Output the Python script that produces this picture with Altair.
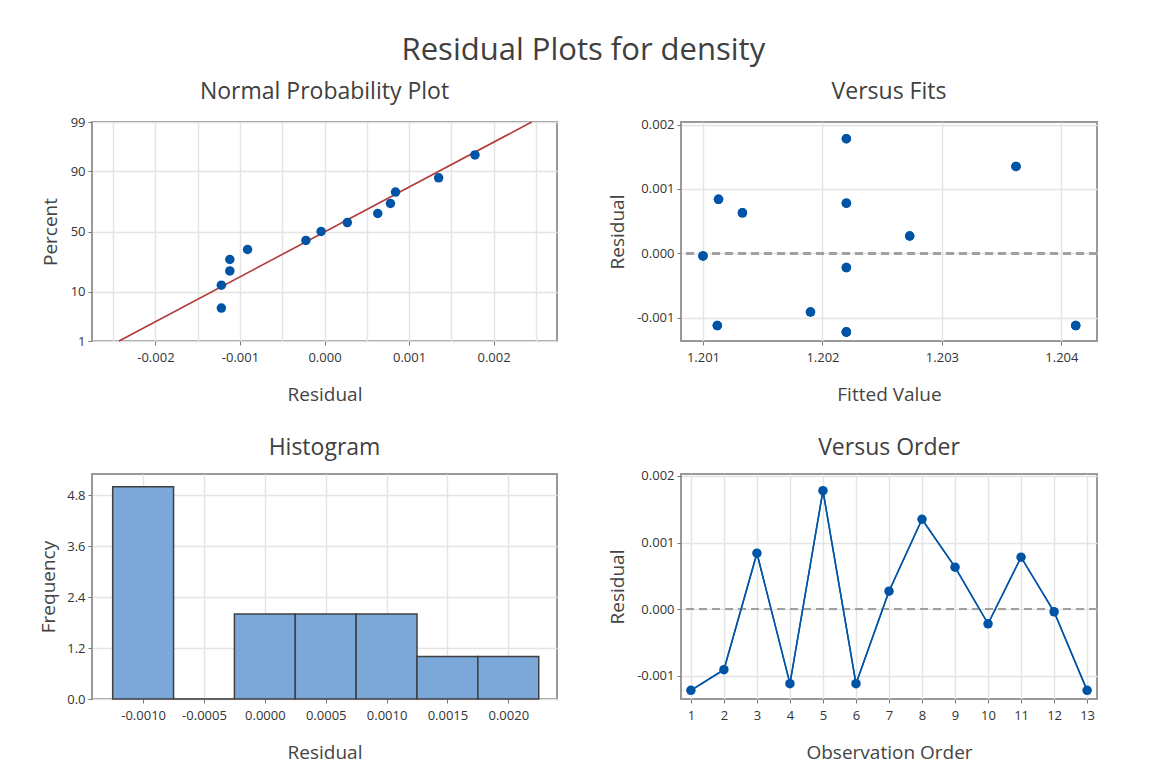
import altair as alt
import pandas as pd
from statistics import NormalDist

# ---------------- data ----------------
obs_order = list(range(1, 14))
residuals = [-0.00122, -0.00091, 0.00084, -0.00112, 0.00178, -0.00112, 0.00027,
             0.00135, 0.00063, -0.00022, 0.00078, -0.00004, -0.00122]
fitted = [1.20220, 1.20190, 1.20113, 1.20112, 1.20220, 1.20412, 1.20273,
          1.20362, 1.20133, 1.20220, 1.20220, 1.20100, 1.20220]

# normal probability plot: plotting percents of the ordered residuals
npp_percent = [5.2, 12.7, 20.1, 27.6, 35.1, 42.5, 50.0, 57.5, 64.9, 72.4, 79.9, 87.3, 94.8]
# fitted normal line end points (residual at 1% and 99%)
line_percent = [1, 99]
line_resid = [-0.00243, 0.00245]
pct_ticks = [1, 10, 50, 90, 99]

# histogram
hist_mid = [-0.0010, -0.0005, 0.0000, 0.0005, 0.0010, 0.0015, 0.0020]
hist_freq = [5, 0, 2, 2, 2, 1, 1]
hist_width = 0.0005
freq_ticks = [0.0, 1.2, 2.4, 3.6, 4.8]

resid_ticks = [-0.001, 0.000, 0.001, 0.002]
fit_ticks = [1.201, 1.202, 1.203, 1.204]
npp_grid = [-0.0025, -0.002, -0.0015, -0.001, -0.0005, 0.0, 0.0005, 0.001, 0.0015, 0.002, 0.0025]

# ---------------- styling ----------------
FONT = "Open Sans"
BLUE = "#0054A6"
RED = "#B23A3A"
BAR = "#7BA7D9"
TXT = "#333333"
GRID = "#E4E4E4"
HYPHEN = "replace(datum.label, '\u2212', '-')"

nd = NormalDist()
npp_df = pd.DataFrame({
    "resid": sorted(residuals),
    "pct": npp_percent,
})
npp_df["z"] = [nd.inv_cdf(p / 100) for p in npp_df["pct"]]
line_df = pd.DataFrame({"resid": line_resid, "pct": line_percent})
line_df["z"] = [nd.inv_cdf(p / 100) for p in line_df["pct"]]
z_ticks = [nd.inv_cdf(p / 100) for p in pct_ticks]

df = pd.DataFrame({"obs": obs_order, "resid": residuals, "fit": fitted})
hist_df = pd.DataFrame({"mid": hist_mid, "freq": hist_freq})
hist_df["lo"] = hist_df["mid"] - hist_width / 2
hist_df["hi"] = hist_df["mid"] + hist_width / 2


def xaxis(title, **kw):
    return alt.Axis(title=title, grid=True, gridColor=GRID, gridWidth=1.5,
                    domain=False, tickColor="#777", tickSize=4, labelPadding=6,
                    labelFont=FONT, labelFontSize=13, labelColor=TXT, labelOverlap=False,
                    titleFont=FONT, titleFontSize=19, titleFontWeight="normal",
                    titleColor="#444", titlePadding=14, minExtent=30, maxExtent=30,
                    **kw)


def yaxis(title, extent, pad, **kw):
    return alt.Axis(title=title, grid=True, gridColor=GRID, gridWidth=1.5,
                    domain=False, tickColor="#777", tickSize=4, labelPadding=3,
                    labelFont=FONT, labelFontSize=13, labelColor=TXT, labelOverlap=False,
                    titleFont=FONT, titleFontSize=19, titleFontWeight="normal",
                    titleColor="#444", titlePadding=pad, minExtent=extent, maxExtent=extent,
                    **kw)


def ptitle(t, off):
    return alt.TitleParams(t, font=FONT, fontSize=23, fontWeight="normal",
                           color="#404040", offset=off, frame="group")


# ---- panel 1: normal probability plot ----
x1 = alt.X("resid:Q", scale=alt.Scale(domain=[-0.00275, 0.00275], nice=False, zero=False),
           axis=xaxis("Residual", values=npp_grid, format=".3f",
                      labelExpr="abs(round(datum.value*2000)) % 2 == 0 ? " + HYPHEN + " : ''",
                      tickOpacity={"condition": {"test": "abs(round(datum.value*2000)) % 2 == 0", "value": 1}, "value": 0}))
y1 = alt.Y("z:Q", scale=alt.Scale(domain=[z_ticks[0], z_ticks[-1]], nice=False, zero=False),
           axis=yaxis("Percent", 30, 2, values=z_ticks,
                      labelExpr="format(cumulativeNormal(datum.value)*100, '.0f')"))
npp_line = alt.Chart(line_df).mark_line(color=RED, strokeWidth=1.6).encode(x=x1, y=y1)
npp_pts = alt.Chart(npp_df).mark_circle(color=BLUE, opacity=1, size=90).encode(x=x1, y=y1)
p1 = alt.layer(npp_line, npp_pts).properties(width=465, height=219,
                                             title=ptitle("Normal Probability Plot", 12))

# ---- panel 2: versus fits ----
x2 = alt.X("fit:Q", scale=alt.Scale(domain=[1.200816, 1.204298], nice=False, zero=False),
           axis=xaxis("Fitted Value", values=fit_ticks, format=".3f"))
y2 = alt.Y("resid:Q", scale=alt.Scale(domain=[-0.00136, 0.00204], nice=False, zero=False),
           axis=yaxis("Residual", 50, 4, values=resid_ticks, format=".3f", labelExpr=HYPHEN))
zero2 = alt.Chart(df).mark_rule(color="#A0A0A0", strokeWidth=1.5, strokeDash=[8, 5]).encode(y=alt.datum(0))
pts2 = alt.Chart(df).mark_circle(color=BLUE, opacity=1, size=90).encode(x=x2, y=y2)
p2 = alt.layer(pts2, zero2, pts2).properties(width=416, height=219, title=ptitle("Versus Fits", 15))

# ---- panel 3: histogram ----
x3 = alt.X("lo:Q", scale=alt.Scale(domain=[-0.00142, 0.00240], nice=False, zero=False),
           axis=xaxis("Residual", values=hist_mid, format=".4f", labelExpr=HYPHEN))
y3 = alt.Y("freq:Q", scale=alt.Scale(domain=[0, 5.3], nice=False),
           axis=yaxis("Frequency", 30, 4, values=freq_ticks, format=".1f"))
bars = alt.Chart(hist_df).mark_bar(color=BAR, stroke="#404040", strokeWidth=1.5, opacity=1).encode(
    x=x3, x2="hi:Q", y=y3, y2=alt.datum(0))
p3 = bars.properties(width=465, height=225, title=ptitle("Histogram", 14))

# ---- panel 4: versus order ----
x4 = alt.X("obs:Q", scale=alt.Scale(domain=[0.7, 13.3], nice=False, zero=False),
           axis=xaxis("Observation Order", values=obs_order, format="d"))
y4 = alt.Y("resid:Q", scale=alt.Scale(domain=[-0.00135, 0.00203], nice=False, zero=False),
           axis=yaxis("Residual", 50, 4, values=resid_ticks, format=".3f", labelExpr=HYPHEN))
zero4 = alt.Chart(df).mark_rule(color="#A0A0A0", strokeWidth=1.5, strokeDash=[8, 5]).encode(y=alt.datum(0))
line4 = alt.Chart(df).mark_line(color=BLUE, strokeWidth=1.5).encode(x=x4, y=y4)
pts4 = alt.Chart(df).mark_circle(color=BLUE, opacity=1, size=90).encode(x=x4, y=y4)
p4 = alt.layer(line4, zero4, line4, pts4).properties(width=416, height=225,
                                                     title=ptitle("Versus Order", 10))

chart = alt.concat(p1, p2, p3, p4, columns=2, spacing={"row": 133, "column": 124},
                   bounds="flush", align="each").properties(
    title=alt.TitleParams("Residual Plots for density", font=FONT, fontSize=31,
                          fontWeight="normal", color="#404040", anchor="middle", dx=15, offset=13),
    padding={"left": 38, "top": 34, "right": 10, "bottom": 5},
).configure_view(stroke="#999999", strokeWidth=2).configure_axis(labelOverlap=False)

chart.save("out.html", embed_options={"renderer": "svg", "actions": False})
